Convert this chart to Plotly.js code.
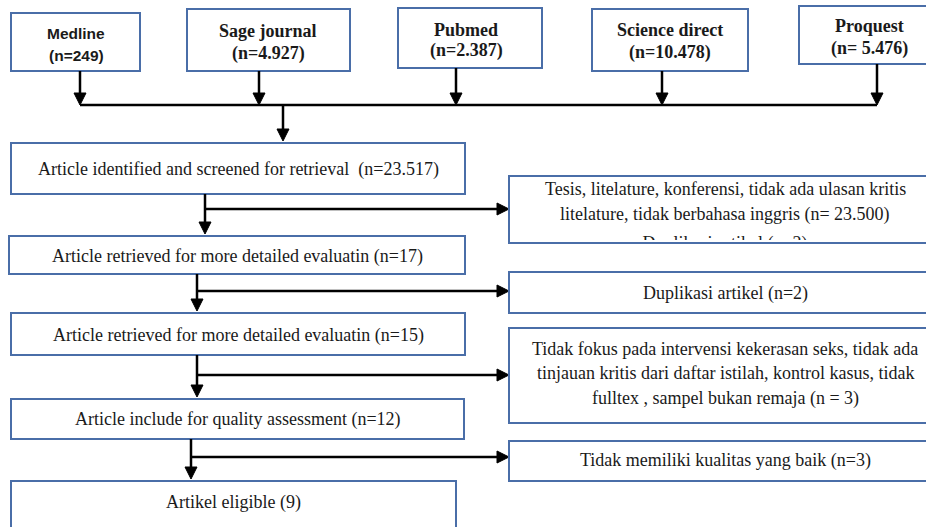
<!DOCTYPE html>
<html>
<head>
<meta charset="utf-8">
<script src="https://cdn.plot.ly/plotly-3.0.1.min.js"></script>
<style>html,body{margin:0;padding:0;background:#fff;}#chart{width:926px;height:527px;}</style>
</head>
<body>
<div id="chart"></div>
<script>
// ---- content (data) ----
const sourceNames = ['Medline', 'Sage journal', 'Pubmed', 'Science direct', 'Proquest'];
const sourceCounts = ['(n=249)', '(n=4.927)', '(n=2.387)', '(n=10.478)', '(n= 5.476)'];
const stepLabels = [
  'Article identified and screened for retrieval  (n=23.517)',
  'Article retrieved for more detailed evaluatin (n=17)',
  'Article retrieved for more detailed evaluatin (n=15)',
  'Article include for quality assessment (n=12)',
  'Artikel eligible (9)'
];
const exclusionLines = [
  ['Tesis, litelature, konferensi, tidak ada ulasan kritis', 'litelature, tidak berbahasa inggris (n= 23.500)', 'Duplikasi artikel (n=2)'],
  ['Duplikasi artikel (n=2)'],
  ['Tidak fokus pada intervensi kekerasan seks, tidak ada', 'tinjauan kritis dari daftar istilah, kontrol kasus, tidak', 'fulltex , sampel bukan remaja (n = 3)'],
  ['Tidak memiliki kualitas yang baik (n=3)']
];

// ---- layout geometry (pixel-like coordinates) ----
const SERIF = '"Liberation Serif", "Times New Roman", Times, "DejaVu Serif", serif';
const NARROW = '"Liberation Sans Narrow", "Arial Narrow", "Liberation Sans", Arial, sans-serif';
const srcBoxes = [[11,140,13,71],[187,350,9,71],[398,542,8,68],[592,748,9,71],[799,932,6,64]];
const srcTextX = [76,268,466,670,869];
const srcTextY = [[33,55],[31,53],[30,50],[30,52],[26,48]];
const srcFonts = [NARROW, SERIF, SERIF, SERIF, SERIF];
const srcSizes = [15.5, 18, 18, 18, 18];
const srcArrowX = [80,259,456,662,877];
const busY = 105;
const mainArrowX = 283, mainArrowTip = 141;

const stepBoxes = [[11,465,143,194],[9,465,236,274],[11,465,313,355],[11,464,399,439],[11,456,481,545]];
const stepTextY = [169,256,335,419,502];
const stemX = [205,197,197,191];
const branchY = [209,291,375,457];

const exclBoxes = [[509,932,176,243],[509,932,272,313],[509,932,328,423],[509,932,441,481]];
const exclTextX = 725;
const exclTextY = [[189,214,244],[293],[349,373,398],[460]];
const exclClip = [240, null, null, null];

const BLUE = '#4a6ea8';
const TXT = 18;
const shapes = [];
const annotations = [];
const traces = [];

function box(b){ shapes.push({type:'rect', layer:'above', xref:'x', yref:'y', x0:b[0], x1:b[1], y0:b[2], y1:b[3], line:{color:BLUE, width:2}, fillcolor:'rgba(0,0,0,0)'}); }
function line(x0,y0,x1,y1){ shapes.push({type:'line', layer:'above', xref:'x', yref:'y', x0:x0, y0:y0, x1:x1, y1:y1, line:{color:'#000', width:2.5}}); }
function downHead(x,tip){ shapes.push({type:'path', layer:'above', xref:'x', yref:'y', path:`M ${x-6},${tip-12} L ${x+6},${tip-12} L ${x},${tip} Z`, fillcolor:'#000', line:{color:'#000', width:1}}); }
function rightHead(x,y){ shapes.push({type:'path', layer:'above', xref:'x', yref:'y', path:`M ${x-12},${y-6} L ${x-12},${y+6} L ${x},${y} Z`, fillcolor:'#000', line:{color:'#000', width:1}}); }
function txt(x,y,t,font,size,bold){
  annotations.push({xref:'x', yref:'y', x:x, y:y, text: bold?('<b>'+t+'</b>'):t, showarrow:false, xanchor:'center', yanchor:'middle', font:{family:font, size:size, color:'#1a1a1a'}});
}

// source boxes
sourceNames.forEach((n,i)=>{
  box(srcBoxes[i]);
  txt(srcTextX[i], srcTextY[i][0], n, srcFonts[i], srcSizes[i], true);
  txt(srcTextX[i], srcTextY[i][1], sourceCounts[i], srcFonts[i], srcSizes[i], true);
  line(srcArrowX[i], srcBoxes[i][3], srcArrowX[i], busY-10);
  downHead(srcArrowX[i], busY);
});
line(srcArrowX[0], busY, srcArrowX[srcArrowX.length-1], busY);
line(mainArrowX, busY, mainArrowX, mainArrowTip-10);
downHead(mainArrowX, mainArrowTip);

// steps
stepLabels.forEach((s,i)=>{
  box(stepBoxes[i]);
  txt((stepBoxes[i][0]+stepBoxes[i][1])/2, stepTextY[i], s, SERIF, TXT, false);
  if(i < stemX.length){
    const top = stepBoxes[i][3], tip = stepBoxes[i+1][2]-2;
    line(stemX[i], top, stemX[i], tip-10);
    downHead(stemX[i], tip);
    line(stemX[i], branchY[i], exclBoxes[i][0]-10, branchY[i]);
    rightHead(exclBoxes[i][0], branchY[i]);
  }
});

// exclusions
exclusionLines.forEach((lines,i)=>{
  lines.forEach((l,j)=>{
    if(exclClip[i] !== null && j === lines.length-1){
      traces.push({type:'scatter', mode:'text', x:[exclTextX], y:[exclTextY[i][j]], text:[l], textposition:'middle center', textfont:{family:SERIF, size:TXT, color:'#1a1a1a'}, hoverinfo:'skip', showlegend:false, cliponaxis:false});
      shapes.push({type:'rect', layer:'above', xref:'x', yref:'y', x0:exclBoxes[i][0]+2, x1:exclBoxes[i][1], y0:exclClip[i], y1:exclBoxes[i][3]+10, line:{width:0}, fillcolor:'#fff'});
    } else {
      txt(exclTextX, exclTextY[i][j], l, SERIF, TXT, false);
    }
  });
});
exclBoxes.forEach(b=>box(b));

const layout = {
  width:926, height:527,
  margin:{l:0,r:0,t:0,b:0},
  paper_bgcolor:'#fff', plot_bgcolor:'#fff',
  xaxis:{range:[0,926], visible:false, fixedrange:true},
  yaxis:{range:[527,0], visible:false, fixedrange:true},
  shapes:shapes, annotations:annotations, showlegend:false
};
Plotly.newPlot('chart', traces, layout, {staticPlot:true, displayModeBar:false});
</script>
</body>
</html>
